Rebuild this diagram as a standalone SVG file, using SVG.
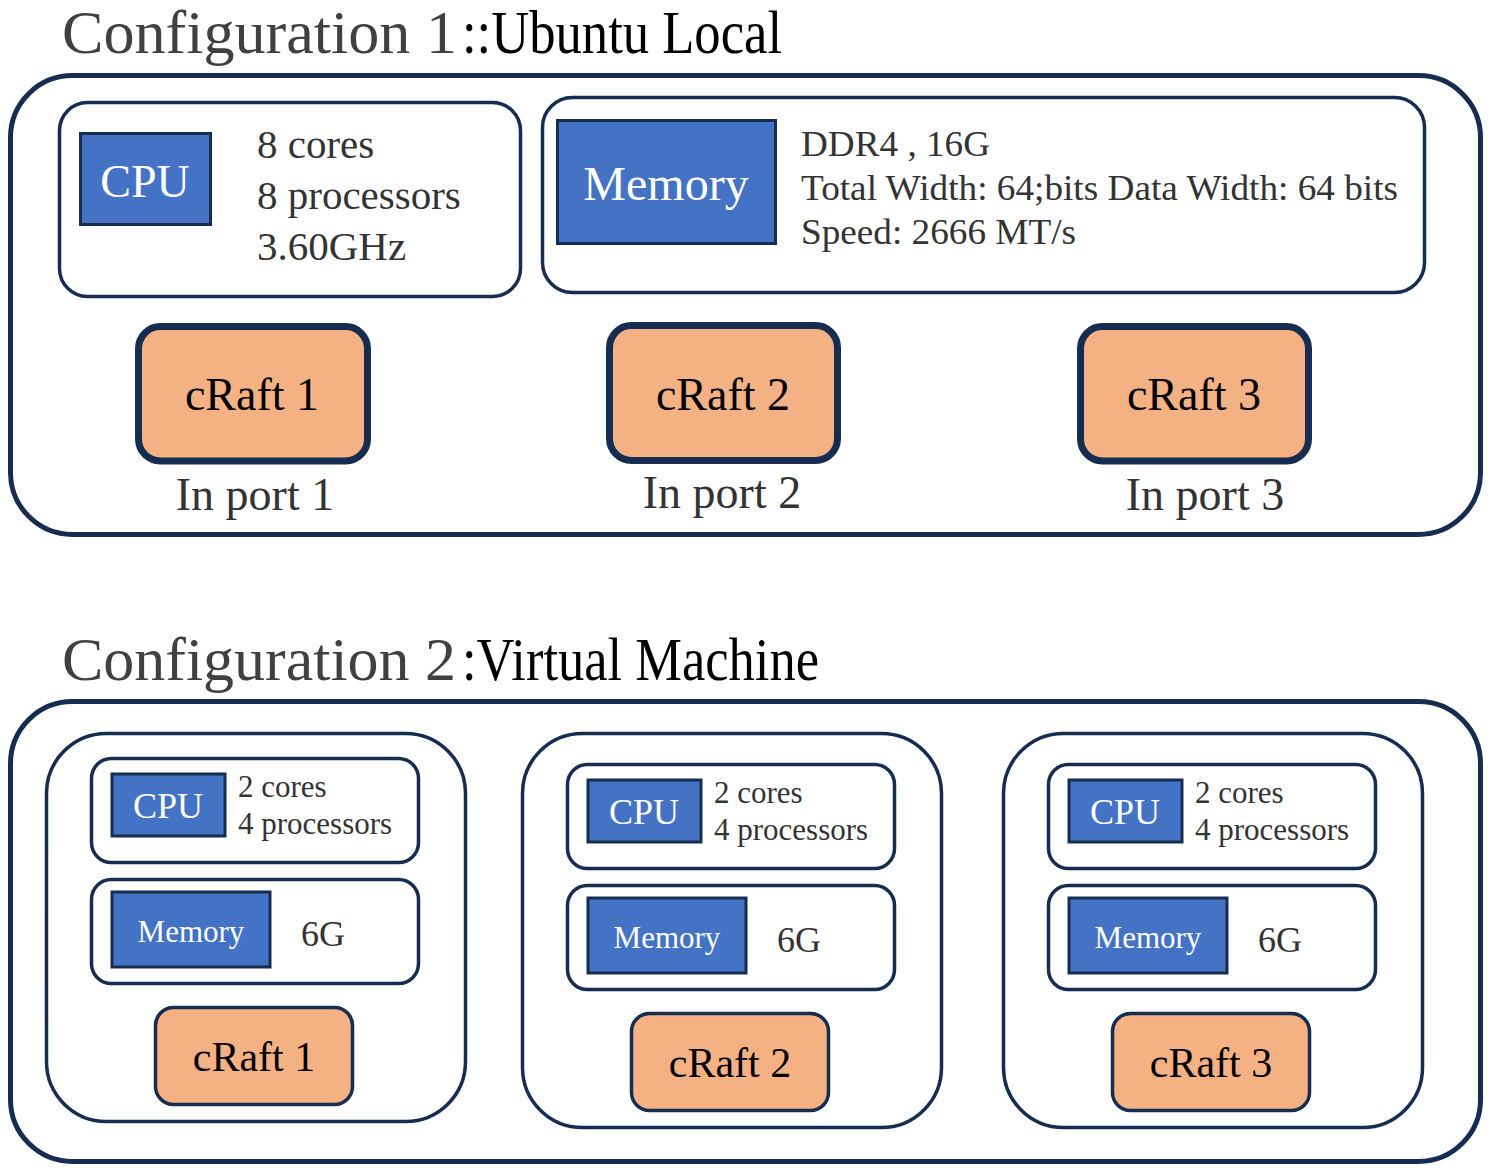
<svg xmlns="http://www.w3.org/2000/svg" width="1493" height="1173" viewBox="0 0 1493 1173" font-family="'Liberation Serif', 'DejaVu Serif', serif">
<style>
  text { font-family: 'Liberation Serif', 'DejaVu Serif', serif; }
  .outer { fill: #fff; stroke: #172c51; stroke-width: 5; }
  .cont { fill: #fff; stroke: #172c51; stroke-width: 3.5; }
  .blue { fill: #4472c4; stroke: #172c51; stroke-width: 3; }
  .raft1 { fill: #f4b183; stroke: #172c51; stroke-width: 7; }
  .raft2 { fill: #f4b183; stroke: #172c51; stroke-width: 3.5; }
  .wt { fill: #fff; }
  .gt { fill: #333; }
  .tg { fill: #404040; }
  .bk { fill: #000; }
</style>
<rect width="1493" height="1173" fill="#fff"/>

<!-- Configuration 1 -->
<g id="config1">
  <text x="62" y="53" font-size="62" class="tg" textLength="395" lengthAdjust="spacingAndGlyphs">Configuration 1</text>
  <text x="462" y="53" font-size="62" class="bk" textLength="320" lengthAdjust="spacingAndGlyphs">::Ubuntu Local</text>
  <rect class="outer" x="10.5" y="75.5" width="1470" height="459" rx="62"/>
</g>
<g id="cpu1">
  <rect class="cont" x="59.5" y="102.5" width="461" height="194" rx="28"/>
  <rect class="blue" x="80.5" y="133.5" width="130" height="91"/>
  <text x="145" y="197" font-size="46" class="wt" text-anchor="middle">CPU</text>
  <text x="257" y="158" font-size="41" class="gt">8 cores</text>
  <text x="257" y="209" font-size="41" class="gt">8 processors</text>
  <text x="257" y="260" font-size="41" class="gt">3.60GHz</text>
</g>
<g id="memory1">
  <rect class="cont" x="542.5" y="97.5" width="882" height="195" rx="30"/>
  <rect class="blue" x="557.5" y="120.5" width="218" height="123"/>
  <text x="666" y="200" font-size="48" class="wt" text-anchor="middle">Memory</text>
  <text x="801" y="156" font-size="36" class="gt" textLength="189" lengthAdjust="spacingAndGlyphs">DDR4 , 16G</text>
  <text x="801" y="200" font-size="36" class="gt" textLength="597" lengthAdjust="spacingAndGlyphs">Total Width: 64;bits Data Width: 64 bits</text>
  <text x="801" y="244" font-size="36" class="gt" textLength="275" lengthAdjust="spacingAndGlyphs">Speed: 2666 MT/s</text>
</g>
<g id="craft1-local">
  <rect class="raft1" x="138.5" y="326.5" width="229" height="134.5" rx="22"/>
  <text x="252" y="410" font-size="46" class="bk" text-anchor="middle">cRaft 1</text>
  <text x="255" y="510" font-size="46" class="gt" text-anchor="middle">In port 1</text>
</g>
<g id="craft2-local">
  <rect class="raft1" x="609.5" y="325.5" width="228" height="135" rx="22"/>
  <text x="723" y="410" font-size="46" class="bk" text-anchor="middle">cRaft 2</text>
  <text x="722" y="508" font-size="46" class="gt" text-anchor="middle">In port 2</text>
</g>
<g id="craft3-local">
  <rect class="raft1" x="1080.5" y="326.5" width="228" height="134.5" rx="22"/>
  <text x="1194" y="410" font-size="46" class="bk" text-anchor="middle">cRaft 3</text>
  <text x="1205" y="510" font-size="46" class="gt" text-anchor="middle">In port 3</text>
</g>

<!-- Configuration 2 -->
<g id="config2">
  <text x="62" y="680" font-size="62" class="tg" textLength="394" lengthAdjust="spacingAndGlyphs">Configuration 2</text>
  <text x="462" y="680" font-size="62" class="bk" textLength="357" lengthAdjust="spacingAndGlyphs">:Virtual Machine</text>
  <rect class="outer" x="10.5" y="701.5" width="1470" height="460" rx="62"/>
</g>

<g id="vm1">
  <rect class="cont" x="46.5" y="733.5" width="419" height="388" rx="60"/>
  <g id="vm1-cpu">
    <rect class="cont" x="91.5" y="758.5" width="327" height="104" rx="20"/>
    <rect class="blue" x="112" y="774" width="113" height="62"/>
    <text x="168" y="818" font-size="36" class="wt" text-anchor="middle">CPU</text>
    <text x="238" y="797" font-size="31" class="gt">2 cores</text>
    <text x="238" y="834" font-size="31" class="gt">4 processors</text>
  </g>
  <g id="vm1-memory">
    <rect class="cont" x="91.5" y="879.5" width="327" height="104" rx="20"/>
    <rect class="blue" x="112" y="892" width="158" height="75"/>
    <text x="191" y="942" font-size="31" class="wt" text-anchor="middle">Memory</text>
    <text x="301" y="946" font-size="36" class="gt">6G</text>
  </g>
  <g id="vm1-craft">
    <rect class="raft2" x="155.5" y="1007.5" width="197" height="97" rx="18"/>
    <text x="254" y="1071" font-size="42" class="bk" text-anchor="middle">cRaft 1</text>
  </g>
</g>

<g id="vm2">
  <rect class="cont" x="522.5" y="733.5" width="419" height="394" rx="60"/>
  <g id="vm2-cpu" transform="translate(476,6)">
    <rect class="cont" x="91.5" y="758.5" width="327" height="104" rx="20"/>
    <rect class="blue" x="112" y="774" width="113" height="62"/>
    <text x="168" y="818" font-size="36" class="wt" text-anchor="middle">CPU</text>
    <text x="238" y="797" font-size="31" class="gt">2 cores</text>
    <text x="238" y="834" font-size="31" class="gt">4 processors</text>
  </g>
  <g id="vm2-memory" transform="translate(476,6)">
    <rect class="cont" x="91.5" y="879.5" width="327" height="104" rx="20"/>
    <rect class="blue" x="112" y="892" width="158" height="75"/>
    <text x="191" y="942" font-size="31" class="wt" text-anchor="middle">Memory</text>
    <text x="301" y="946" font-size="36" class="gt">6G</text>
  </g>
  <g id="vm2-craft" transform="translate(476,6)">
    <rect class="raft2" x="155.5" y="1007.5" width="197" height="97" rx="18"/>
    <text x="254" y="1071" font-size="42" class="bk" text-anchor="middle">cRaft 2</text>
  </g>
</g>

<g id="vm3">
  <rect class="cont" x="1003.5" y="733.5" width="419" height="394" rx="60"/>
  <g id="vm3-cpu" transform="translate(957,6)">
    <rect class="cont" x="91.5" y="758.5" width="327" height="104" rx="20"/>
    <rect class="blue" x="112" y="774" width="113" height="62"/>
    <text x="168" y="818" font-size="36" class="wt" text-anchor="middle">CPU</text>
    <text x="238" y="797" font-size="31" class="gt">2 cores</text>
    <text x="238" y="834" font-size="31" class="gt">4 processors</text>
  </g>
  <g id="vm3-memory" transform="translate(957,6)">
    <rect class="cont" x="91.5" y="879.5" width="327" height="104" rx="20"/>
    <rect class="blue" x="112" y="892" width="158" height="75"/>
    <text x="191" y="942" font-size="31" class="wt" text-anchor="middle">Memory</text>
    <text x="301" y="946" font-size="36" class="gt">6G</text>
  </g>
  <g id="vm3-craft" transform="translate(957,6)">
    <rect class="raft2" x="155.5" y="1007.5" width="197" height="97" rx="18"/>
    <text x="254" y="1071" font-size="42" class="bk" text-anchor="middle">cRaft 3</text>
  </g>
</g>

<g id="connectors"/>
</svg>
